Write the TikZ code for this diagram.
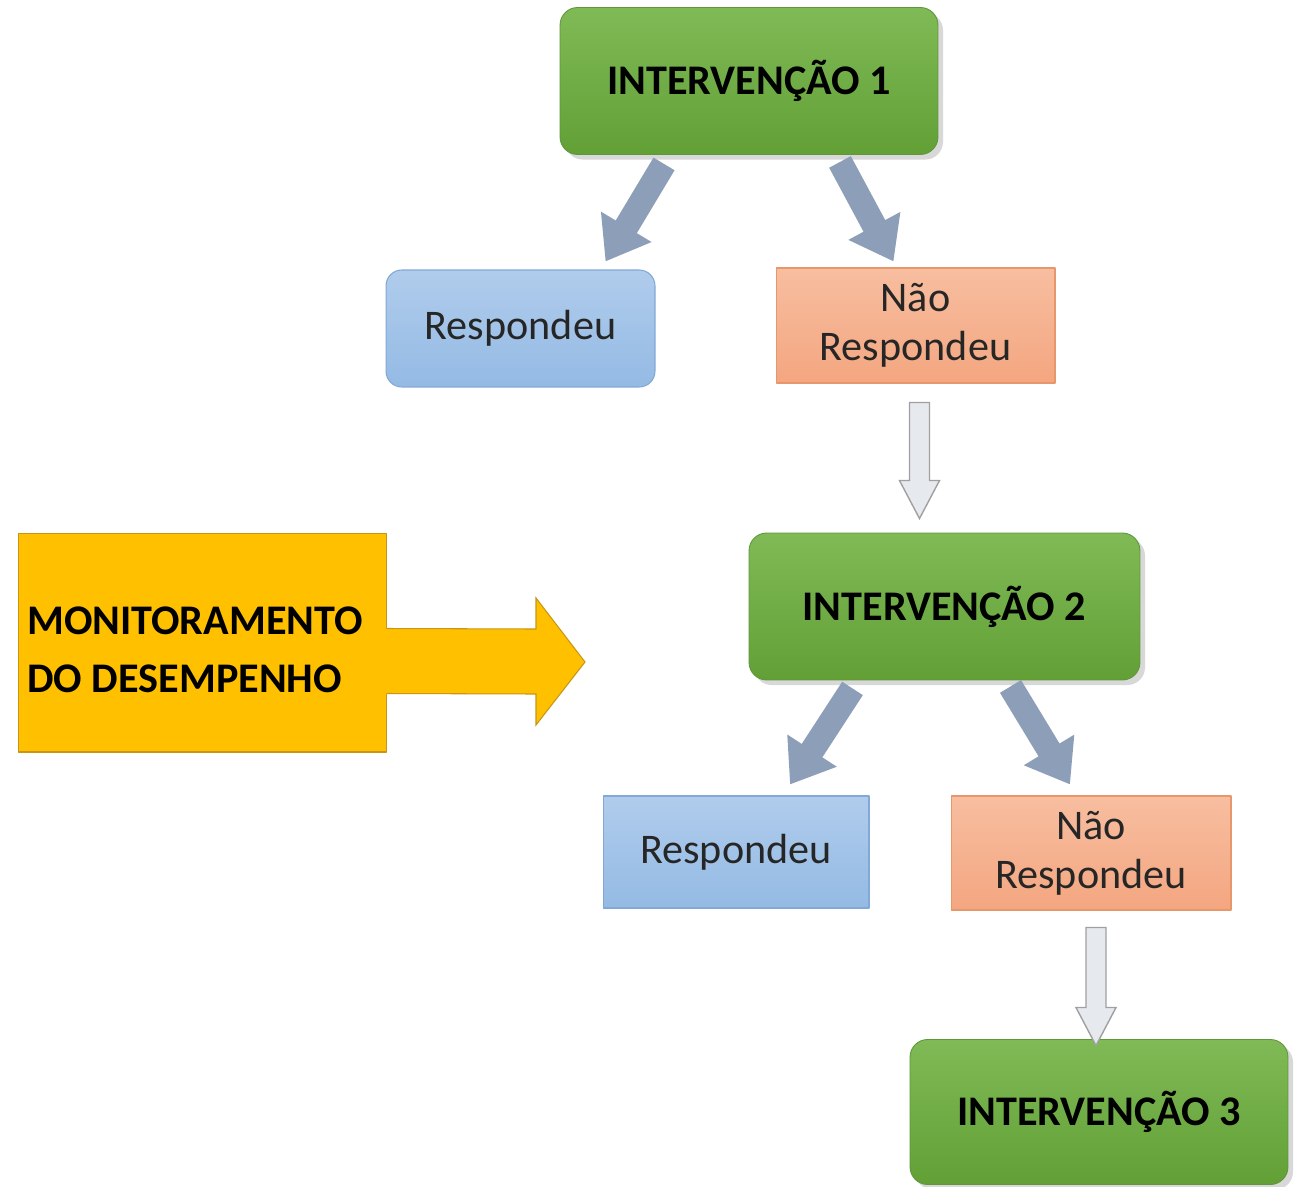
\documentclass[tikz,border=0pt]{standalone}
\usepackage{fontspec}
\setmainfont{Carlito}
\usetikzlibrary{arrows.meta,calc,shadows}
\definecolor{grntop}{RGB}{128,186,86}
\definecolor{grnbot}{RGB}{98,160,54}
\definecolor{grnline}{RGB}{96,150,60}
\definecolor{bluetop}{RGB}{176,204,236}
\definecolor{bluebot}{RGB}{148,186,228}
\definecolor{blueline}{RGB}{130,168,214}
\definecolor{saltop}{RGB}{247,190,160}
\definecolor{salbot}{RGB}{244,166,128}
\definecolor{salline}{RGB}{232,150,108}
\definecolor{gold}{RGB}{255,192,0}
\definecolor{goldline}{RGB}{200,150,20}
\definecolor{slate}{RGB}{140,158,184}
\definecolor{hollowfill}{RGB}{230,233,238}
\definecolor{hollowline}{RGB}{160,160,160}
\tikzset{
  interv/.style={rounded corners=10pt,draw=grnline,line width=0.5pt,top color=grntop,bottom color=grnbot,
    font=\bfseries\fontsize{24}{28}\selectfont,text=black,
    drop shadow={opacity=0.3,shadow xshift=0.6ex,shadow yshift=-0.6ex}},
  answered/.style={draw=blueline,line width=0.6pt,top color=bluetop,bottom color=bluebot,
    font=\fontsize{24}{28}\selectfont,text=black!85},
  notanswered/.style={draw=salline,line width=0.6pt,top color=saltop,bottom color=salbot,
    font=\fontsize{24}{28}\selectfont,text=black!85,align=center},
  slant/.style={draw=slate,line width=14pt,line cap=butt,-{Triangle[length=23pt,width=32pt]}},
  hollow/.style={draw=hollowline,fill=hollowfill,line width=0.8pt,line join=miter}
}
\newcommand\hollowdown[2]{\draw[hollow] ($(#1)+(-10,0)$) -- ($(#2)+(-10,-38)$) -- ($(#2)+(-20,-38)$) -- (#2)
  -- ($(#2)+(20,-38)$) -- ($(#2)+(10,-38)$) -- ($(#1)+(10,0)$) -- cycle;}

\begin{document}
\begin{tikzpicture}[line cap=round,line join=round,x=0.02cm,y=-0.02cm]
\useasboundingbox[fill=white] (0,0) rectangle (1299,1187);

\node[interv,minimum width=7.56cm,minimum height=2.94cm] (int1) at (749,81) {INTERVENÇÃO 1};
\node[answered,rounded corners=9pt,minimum width=5.38cm,minimum height=2.34cm] (resp1) at (520.5,328.5) {Respondeu};
\node[notanswered,minimum width=5.58cm,minimum height=2.3cm] (nr1) at (915.5,325.5) {Não\\Respondeu};
\node[interv,minimum width=7.82cm,minimum height=2.94cm] (int2) at (944.5,606.5) {INTERVENÇÃO 2};
\node[answered,minimum width=5.32cm,minimum height=2.24cm] (resp2) at (736,852) {Respondeu};
\node[notanswered,minimum width=5.6cm,minimum height=2.28cm] (nr2) at (1091,853) {Não\\Respondeu};
\node[interv,minimum width=7.56cm,minimum height=2.9cm] (int3) at (1099,1112) {INTERVENÇÃO 3};

\draw[slant] ($(int1.south)+(-85,9)$) -- ($(resp1.north)+(85,-8)$);
\draw[slant] ($(int1.south)+(91,7)$) -- ($(nr1.north)+(-22,-6)$);
\draw[slant] ($(int2.south)+(-92,8)$) -- ($(resp2.north)+(54,-11)$);
\draw[slant] ($(int2.south)+(66,6)$) -- ($(nr2.north)+(-21,-11)$);

\coordinate (h1s) at ($(nr1.south)+(4,19)$);
\coordinate (h1e) at ($(nr1.south)+(4,135)$);
\hollowdown{h1s}{h1e}
\coordinate (h2s) at ($(nr2.south)+(5,17)$);
\coordinate (h2e) at ($(nr2.south)+(5,135)$);
\hollowdown{h2s}{h2e}

\node[draw=goldline,fill=gold,line width=0.6pt,minimum width=7.38cm,minimum height=4.38cm,
  font=\bfseries\fontsize{24}{33}\selectfont,align=left] (mon) at (202.5,642.5) {};
\coordinate (montip) at (585,662);
\fill[gold] ($(mon.east)+(-2,-14)$) -- ($(montip)+(-49,-33)$) -- ($(montip)+(-49,-64)$) -- (montip)
  -- ($(montip)+(-49,63)$) -- ($(montip)+(-49,32)$) -- ($(mon.east)+(-2,51)$) -- cycle;
\draw[goldline,line width=0.6pt,line join=miter] ($(mon.east)+(0,-14)$) -- ($(montip)+(-49,-33)$) -- ($(montip)+(-49,-64)$) -- (montip)
  -- ($(montip)+(-49,63)$) -- ($(montip)+(-49,32)$) -- ($(mon.east)+(0,51)$);
\node[font=\bfseries\fontsize{24}{33}\selectfont,align=left] (montext) at (195,650) {MONITORAMENTO\\DO DESEMPENHO};
\end{tikzpicture}
\end{document}
